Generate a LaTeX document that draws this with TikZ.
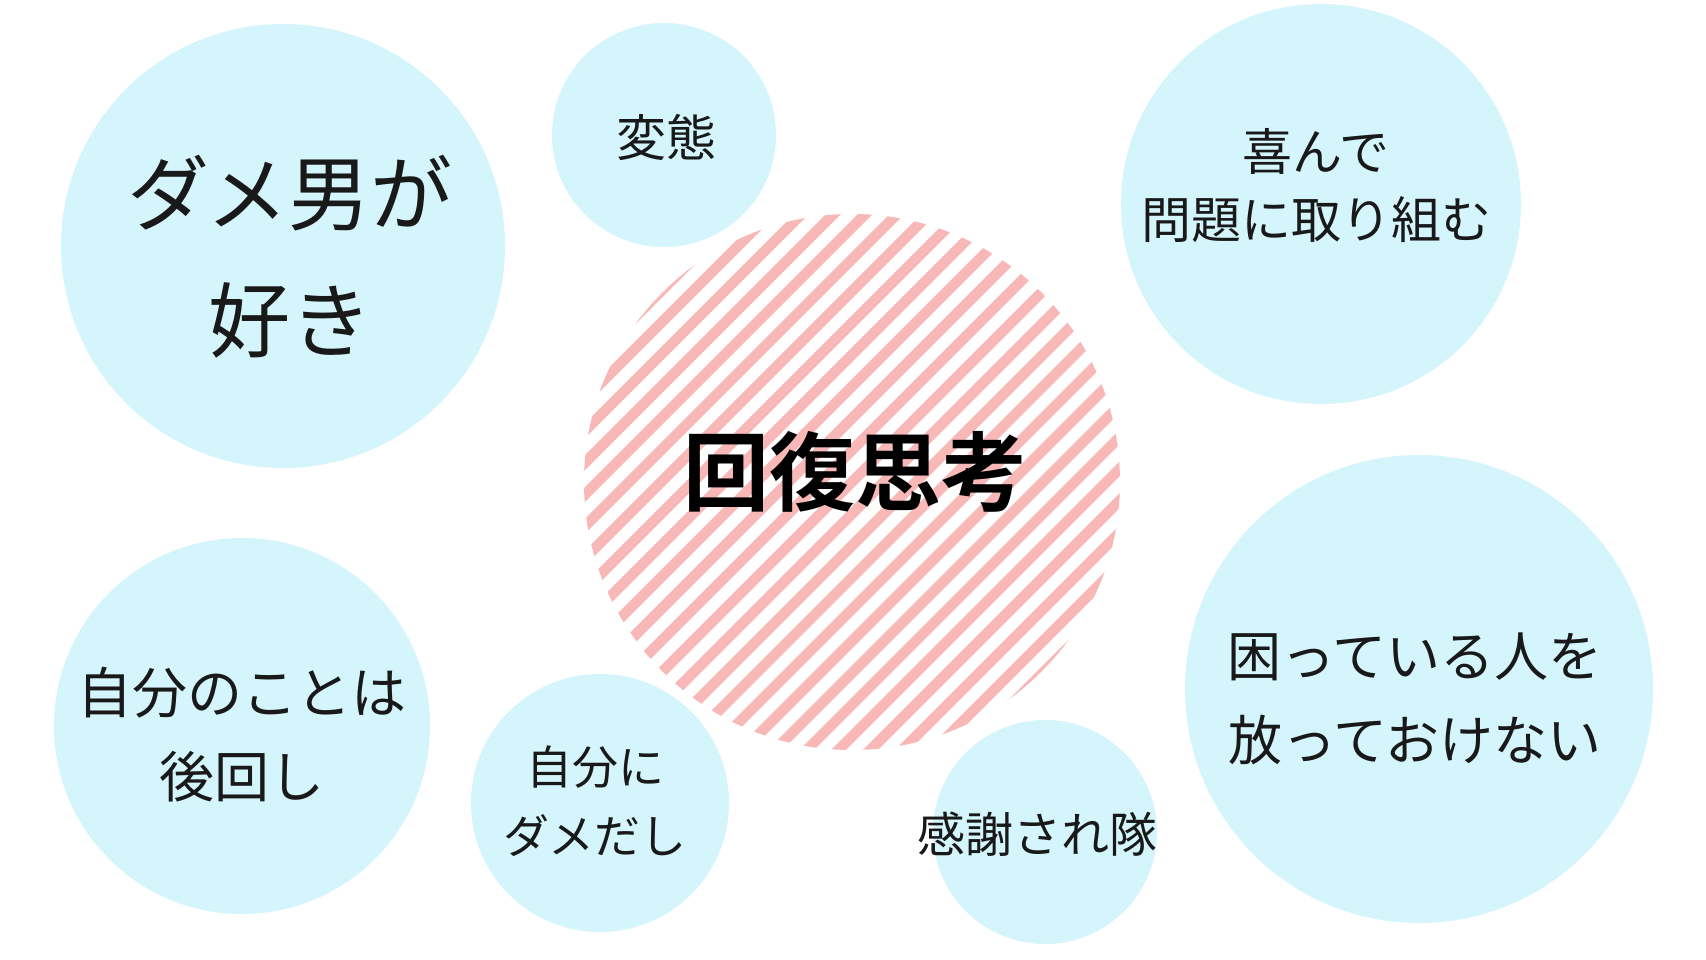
\documentclass[tikz,border=0pt]{standalone}
\usepackage{fontspec}
\newfontfamily\jpfont{Noto Sans CJK JP}
\newfontfamily\jpbold{Noto Sans CJK JP Bold}
\definecolor{bubblefill}{RGB}{212,245,252}
\definecolor{stripepink}{RGB}{248,184,184}
\tikzset{
  bubble/.style={circle, fill=bubblefill, draw=none, inner sep=0pt},
  lbl/.style={align=center, inner sep=0pt, text=black!90},
}
\begin{document}
\begin{tikzpicture}[x=1pt,y=-1pt]
\useasboundingbox (0,0) rectangle (1706,960);
\fill[white] (0,0) rectangle (1706,960);
% bubbles
\node[bubble, minimum size=444pt] (b1) at (283,246) {};
\node[bubble, minimum size=224pt] (b2) at (664,135) {};
\node[bubble, minimum size=400pt] (b3) at (1321,204) {};
\node[bubble, minimum size=468pt] (b4) at (1419,689) {};
\node[bubble, minimum size=376pt] (b5) at (242,726) {};
\node[bubble, minimum size=258pt] (b6) at (600,803) {};
\node[bubble, minimum size=224pt] (b7) at (1045,832) {};
% central striped circle
\coordinate (cc) at (852,482);
\begin{scope}
  \clip (cc) circle[radius=268pt];
  \foreach \k in {-14,...,14} {
    \draw[stripepink, line width=10.5pt]
      ({852+\k*15.91+300*0.7071},{482+\k*15.91-300*0.7071}) --
      ({852+\k*15.91-300*0.7071},{482+\k*15.91+300*0.7071});
  }
\end{scope}
% labels
\node[lbl, font={\jpfont\fontsize{82}{127}\selectfont}] (t1) at (290,257) {ダメ男が\\好き};
\node[lbl, font={\jpfont\fontsize{50}{60}\selectfont}] (t2) at (666,137) {変態};
\node[lbl, font={\jpfont\fontsize{50}{68}\selectfont}] (t3) at (1316,186) {喜んで\\問題に取り組む};
\node[lbl, font={\jpfont\fontsize{54}{84}\selectfont}] (t4) at (1415,699) {困っている人を\\放っておけない};
\node[lbl, font={\jpfont\fontsize{55}{84}\selectfont}] (t5) at (242,735) {自分のことは\\後回し};
\node[lbl, font={\jpfont\fontsize{46}{69}\selectfont}] (t6) at (595,801) {自分に\\ダメだし};
\node[lbl, font={\jpfont\fontsize{48}{58}\selectfont}] (t7) at (1037,834) {感謝され隊};
\node[lbl, text=black, font={\jpbold\fontsize{86}{100}\selectfont}] (t0) at (855,472) {回復思考};
\end{tikzpicture}
\end{document}
